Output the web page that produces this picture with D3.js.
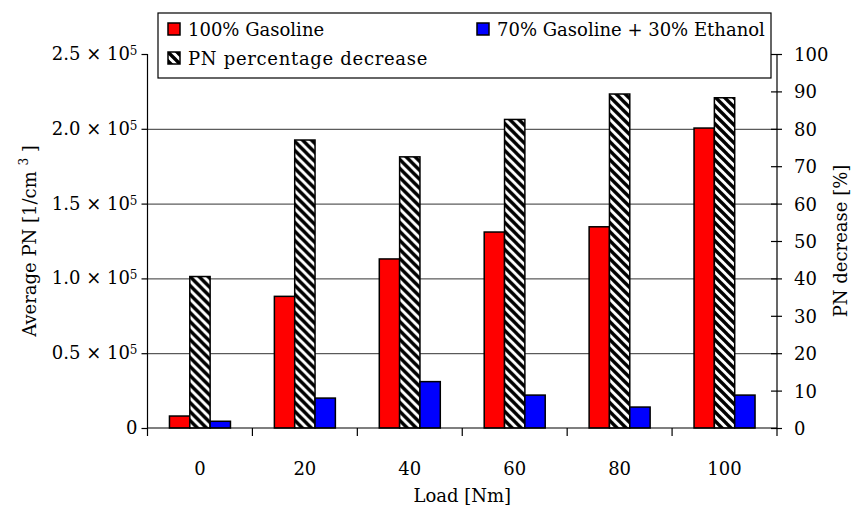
<!DOCTYPE html>
<meta charset="utf-8">
<style>
body { margin: 0; background: #fff; }
text { font-family: "DejaVu Serif", serif; font-size: 18px; fill: #000; }
.grid line { stroke: #333; stroke-width: 1; }
.grid path { stroke-width: 0; }
.axis path, .axis line { stroke: #000; stroke-width: 1.2; }
</style>
<body>
<script src="https://cdn.jsdelivr.net/npm/d3@7"></script>
<script>

// data
var loads = ["0", "20", "40", "60", "80", "100"];
var gasoline = [8000, 88000, 113000, 131000, 134500, 200500];   // 1/cm3
var ethanol = [4500, 20000, 31000, 22000, 14000, 22000];        // 1/cm3
var decrease = [40.5, 77, 72.5, 82.5, 89.3, 88.3];              // %
var leftTicks = [0, 50000, 100000, 150000, 200000, 250000];
var leftTickLabels = ["0", "0.5 × 10", "1.0 × 10", "1.5 × 10", "2.0 × 10", "2.5 × 10"];
var rightTicks = [0, 10, 20, 30, 40, 50, 60, 70, 80, 90, 100];

var margin = {top: 54, right: 74, bottom: 78, left: 147.5},
    width = 851 - margin.left - margin.right,
    height = 506 - margin.top - margin.bottom;

var svg = d3.select("body").append("svg")
    .attr("width", 851)
    .attr("height", 506);

// hatch pattern
var defs = svg.append("defs");
var pat = defs.append("pattern")
    .attr("id", "hatch")
    .attr("patternUnits", "userSpaceOnUse")
    .attr("width", 9)
    .attr("height", 9);
pat.append("rect").attr("width", 9).attr("height", 9).attr("fill", "#fff");
pat.append("path")
    .attr("d", "M-1,-1 L10,10 M-1,8 L1,10 M8,-1 L10,1")
    .attr("stroke", "#000")
    .attr("stroke-width", 3.4);

var g = svg.append("g")
    .attr("transform", "translate(" + margin.left + "," + margin.top + ")");

var x0 = d3.scaleBand().domain(loads).range([0, width]).padding(0);
var groupW = 61;
var x1 = d3.scaleBand().domain(["gas", "dec", "eth"])
    .range([(x0.bandwidth() - groupW) / 2, (x0.bandwidth() + groupW) / 2]);

var yL = d3.scaleLinear().domain([0, 250000]).range([height, 0]);
var yR = d3.scaleLinear().domain([0, 100]).range([height, 0]);

// gridlines
g.append("g")
    .attr("class", "grid")
    .call(d3.axisLeft(yL)
        .tickValues(leftTicks.slice(1, 5))
        .tickSize(-width)
        .tickFormat(""));

// bars
var rows = loads.map(function(d, i) {
  return {load: d, gas: gasoline[i], dec: decrease[i], eth: ethanol[i]};
});

var grp = g.selectAll(".grp")
    .data(rows)
  .enter().append("g")
    .attr("transform", function(d) { return "translate(" + x0(d.load) + ",0)"; });

grp.append("rect")
    .attr("x", x1("gas"))
    .attr("y", function(d) { return yL(d.gas); })
    .attr("width", x1.bandwidth())
    .attr("height", function(d) { return height - yL(d.gas); })
    .attr("fill", "#ff0000").attr("stroke", "#000").attr("stroke-width", 1.5);

grp.append("rect")
    .attr("x", x1("dec"))
    .attr("y", function(d) { return yR(d.dec); })
    .attr("width", x1.bandwidth())
    .attr("height", function(d) { return height - yR(d.dec); })
    .attr("fill", "url(#hatch)").attr("stroke", "#000").attr("stroke-width", 1.5);

grp.append("rect")
    .attr("x", x1("eth"))
    .attr("y", function(d) { return yL(d.eth); })
    .attr("width", x1.bandwidth())
    .attr("height", function(d) { return height - yL(d.eth); })
    .attr("fill", "#0000ff").attr("stroke", "#000").attr("stroke-width", 1.5);

// left axis
var left = g.append("g")
    .attr("class", "axis")
    .call(d3.axisLeft(yL).tickValues(leftTicks).tickSize(6).tickSizeOuter(0).tickFormat(""));
left.select(".domain").attr("d", "M0," + (height + 8) + "V0");

var lbl = g.append("g").selectAll("text")
    .data(leftTicks)
  .enter().append("text")
    .attr("x", -10)
    .attr("y", function(d) { return yL(d) + 6; })
    .attr("text-anchor", "end");
lbl.text(function(d, i) { return leftTickLabels[i]; })
    .filter(function(d) { return d > 0; })
    .append("tspan")
    .attr("dy", -5)
    .style("font-size", "12px")
    .text("5");

// right axis, ticks crossing
var right = g.append("g")
    .attr("class", "axis")
    .attr("transform", "translate(" + width + ",0)")
    .call(d3.axisRight(yR).tickValues(rightTicks).tickSize(5).tickSizeOuter(0).tickPadding(12));
right.select(".domain").attr("d", "M0," + (height + 8) + "V0");
right.selectAll("text").attr("font-size", null).attr("font-family", null).attr("dy", "0.36em");
g.append("g")
    .attr("class", "axis")
    .attr("transform", "translate(" + width + ",0)")
    .call(d3.axisLeft(yR).tickValues(rightTicks).tickSize(6).tickFormat(""))
  .select(".domain").remove();

// bottom axis
var bottom = g.append("g")
    .attr("class", "axis")
    .attr("transform", "translate(0," + height + ")");
bottom.append("line").attr("x1", 0).attr("x2", width);
bottom.selectAll(".edge")
    .data(loads.slice(1))
  .enter().append("line")
    .attr("x1", function(d) { return x0(d); })
    .attr("x2", function(d) { return x0(d); })
    .attr("y2", 8);
bottom.selectAll(".xl")
    .data(loads)
  .enter().append("text")
    .attr("x", function(d) { return x0(d) + x0.bandwidth() / 2; })
    .attr("y", 47)
    .attr("text-anchor", "middle")
    .text(function(d) { return d; });

// axis titles
g.append("text")
    .attr("x", width / 2)
    .attr("y", height + 74)
    .attr("text-anchor", "middle")
    .text("Load [Nm]");

var yt = g.append("text")
    .attr("transform", "translate(" + (-112) + "," + (height / 2) + ") rotate(-90)")
    .attr("text-anchor", "middle");
yt.append("tspan").text("Average PN [1/cm ");
yt.append("tspan").attr("dy", -8).style("font-size", "12px").text("3");
yt.append("tspan").attr("dy", 8).text(" ]");

g.append("text")
    .attr("transform", "translate(" + (width + 70) + "," + (height / 2) + ") rotate(-90)")
    .attr("text-anchor", "middle")
    .text("PN decrease [%]");

// legend
var leg = svg.append("g").attr("transform", "translate(158,13)");
leg.append("rect")
    .attr("width", 613).attr("height", 65)
    .attr("fill", "#fff").attr("stroke", "#000").attr("stroke-width", 1.2);

var legItems = [
  {label: "100% Gasoline", fill: "#ff0000", x: 10, y: 10},
  {label: "70% Gasoline + 30% Ethanol", fill: "#0000ff", x: 319, y: 10},
  {label: "PN percentage decrease", fill: "url(#hatch)", x: 10, y: 39}
];
var li = leg.selectAll(".li")
    .data(legItems)
  .enter().append("g")
    .attr("transform", function(d) { return "translate(" + d.x + "," + d.y + ")"; });
li.append("rect")
    .attr("width", 12).attr("height", 12)
    .attr("fill", function(d) { return d.fill; })
    .attr("stroke", "#000").attr("stroke-width", 1.5);
li.append("text")
    .attr("x", 20)
    .attr("y", 13)
    .style("letter-spacing", function(d, i) { return i == 2 ? "0.7px" : null; })
    .text(function(d) { return d.label; });

</script>
</body>
